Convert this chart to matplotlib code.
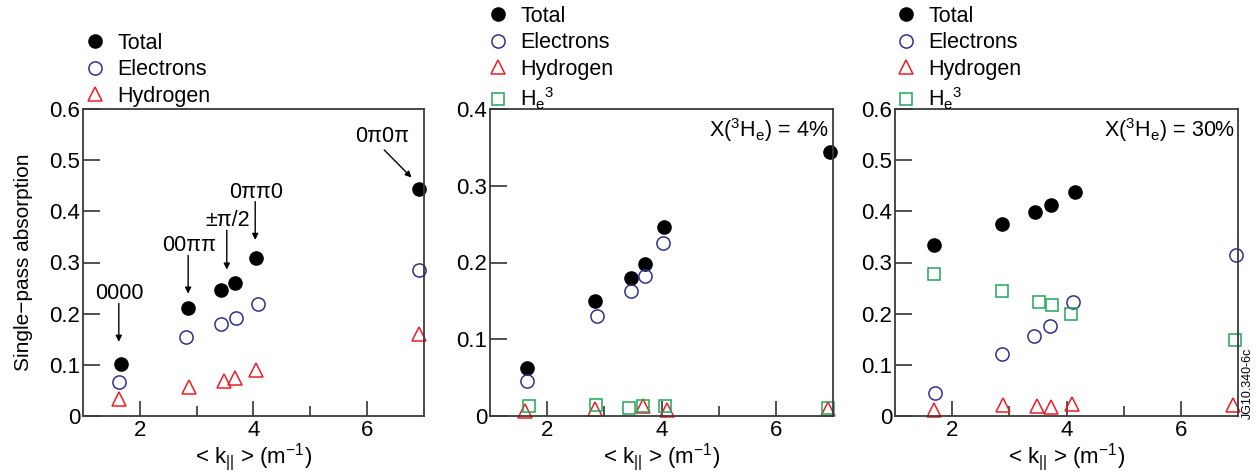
import matplotlib
matplotlib.use("Agg")
import matplotlib.pyplot as plt
from matplotlib.ticker import FixedLocator

plt.rcParams['font.family'] = ['Liberation Sans', 'DejaVu Sans']
plt.rcParams['mathtext.fontset'] = 'custom'
plt.rcParams['mathtext.rm'] = 'Liberation Sans'
plt.rcParams['mathtext.it'] = 'Liberation Sans:italic'
plt.rcParams['mathtext.sf'] = 'Liberation Sans'

# ---------------- data ----------------
# Panel 1 (no He3)
p1_total_x = [1.67, 2.85, 3.43, 3.67, 4.05, 6.91]
p1_total_y = [0.101, 0.212, 0.247, 0.259, 0.308, 0.444]
p1_elec_x = [1.64, 2.82, 3.42, 3.69, 4.08, 6.92]
p1_elec_y = [0.066, 0.155, 0.179, 0.192, 0.219, 0.286]
p1_hyd_x = [1.64, 2.87, 3.48, 3.68, 4.04, 6.92]
p1_hyd_y = [0.034, 0.057, 0.068, 0.075, 0.089, 0.161]

# Panel 2 (X(3He) = 4%)
p2_total_x = [1.64, 2.84, 3.47, 3.72, 4.05, 6.94]
p2_total_y = [0.062, 0.150, 0.180, 0.198, 0.246, 0.344]
p2_elec_x = [1.64, 2.87, 3.46, 3.71, 4.02]
p2_elec_y = [0.045, 0.130, 0.163, 0.183, 0.226]
p2_hyd_x = [1.62, 2.84, 3.67, 4.09, 6.92]
p2_hyd_y = [0.006, 0.009, 0.013, 0.008, 0.009]
p2_he3_x = [1.68, 2.85, 3.44, 3.67, 4.06, 6.91]
p2_he3_y = [0.013, 0.014, 0.010, 0.013, 0.013, 0.011]

# Panel 3 (X(3He) = 30%)
p3_total_x = [1.69, 2.87, 3.45, 3.73, 4.15]
p3_total_y = [0.334, 0.376, 0.399, 0.413, 0.437]
p3_elec_x = [1.70, 2.87, 3.44, 3.72, 4.12, 6.96]
p3_elec_y = [0.044, 0.122, 0.157, 0.176, 0.223, 0.315]
p3_hyd_x = [1.68, 2.89, 3.48, 3.73, 4.10, 6.92]
p3_hyd_y = [0.012, 0.021, 0.019, 0.018, 0.023, 0.021]
p3_he3_x = [1.68, 2.87, 3.52, 3.74, 4.07, 6.94]
p3_he3_y = [0.277, 0.244, 0.223, 0.216, 0.199, 0.148]

phase_labels = ['0000', '00\u03c0\u03c0', '\u00b1\u03c0/2', '0\u03c0\u03c00', '0\u03c00\u03c0']

x_ticks = [2, 4, 6]
x_minor = [3, 5]
y_ticks_06 = [0, 0.1, 0.2, 0.3, 0.4, 0.5, 0.6]
y_labels_06 = ['0', '0.1', '0.2', '0.3', '0.4', '0.5', '0.6']
y_ticks_04 = [0, 0.1, 0.2, 0.3, 0.4]
y_labels_04 = ['0', '0.1', '0.2', '0.3', '0.4']

# ---------------- style ----------------
C_TOT = 'black'
C_ELE = '#2e3192'
C_HYD = '#ed1c24'
C_HE3 = '#1fa855'
MS = 9.5
FS_TICK = 16
FS_LEG = 15.5

fig = plt.figure(figsize=(12.6, 4.72), dpi=100)
W, H = 1260, 472
def ax_at(l, r, t=109, b=416):
    return fig.add_axes([l / W, 1 - b / H, (r - l) / W, (b - t) / H])

ax1 = ax_at(83, 424)
ax2 = ax_at(490, 833)
ax3 = ax_at(895, 1238)

def style(ax, yt, yl, ymax):
    ax.set_xlim(1, 7)
    ax.set_ylim(0, ymax)
    ax.xaxis.set_major_locator(FixedLocator(x_ticks))
    ax.xaxis.set_minor_locator(FixedLocator(x_minor))
    ax.set_yticks(yt)
    ax.set_yticklabels(yl)
    ax.tick_params(axis='x', which='major', direction='in', length=11, width=1.2,
                   labelsize=FS_TICK, pad=3, top=False, color='#333333')
    ax.tick_params(axis='x', which='minor', direction='in', length=7, width=1.2,
                   top=False, color='#333333')
    ax.tick_params(axis='y', which='major', direction='in', length=12, width=1.2,
                   labelsize=FS_TICK, pad=2, right=False, color='#333333')
    for s in ax.spines.values():
        s.set_linewidth(1.3)
        s.set_color('#3a3a3a')
    ax.set_xlabel(r'< k$_{\mathregular{||}}$ > (m$^{\mathregular{-1}}$)', fontsize=FS_TICK, labelpad=0)

def plot_series(ax, tx, ty, ex, ey, hx, hy, gx=None, gy=None):
    kw = dict(linestyle='none', clip_on=False)
    h = []
    h.append(ax.plot(tx, ty, marker='o', ms=MS, color=C_TOT, label='Total', **kw)[0])
    h.append(ax.plot(ex, ey, marker='o', ms=MS, mfc='none', mec=C_ELE, mew=1.1, label='Electrons', **kw)[0])
    h.append(ax.plot(hx, hy, marker='^', ms=MS, mfc='none', mec=C_HYD, mew=1.1, label='Hydrogen', **kw)[0])
    if gx is not None:
        h.append(ax.plot(gx, gy, marker='s', ms=MS - 1, mfc='none', mec=C_HE3, mew=1.1,
                         label=r'H$_{\mathregular{e}}$$^{\mathregular{3}}$', **kw)[0])
    return h

h1 = plot_series(ax1, p1_total_x, p1_total_y, p1_elec_x, p1_elec_y, p1_hyd_x, p1_hyd_y)
h2 = plot_series(ax2, p2_total_x, p2_total_y, p2_elec_x, p2_elec_y, p2_hyd_x, p2_hyd_y, p2_he3_x, p2_he3_y)
h3 = plot_series(ax3, p3_total_x, p3_total_y, p3_elec_x, p3_elec_y, p3_hyd_x, p3_hyd_y, p3_he3_x, p3_he3_y)

style(ax1, y_ticks_06, y_labels_06, 0.6)
style(ax2, y_ticks_04, y_labels_04, 0.4)
style(ax3, y_ticks_06, y_labels_06, 0.6)
ax1.set_ylabel('Single\u2212pass absorption', fontsize=15, labelpad=12)

def legend(handles, x_px, top_px):
    fig.legend(handles=handles, loc='upper left',
               bbox_to_anchor=(x_px / W, 1 - top_px / H),
               frameon=False, fontsize=FS_LEG, handlelength=1.0, handletextpad=0.55,
               labelspacing=0.25, borderpad=0, borderaxespad=0)

legend(h1, 84, 33)
legend(h2, 487, 6)
legend(h3, 895, 6)

# annotations in panel 1
ann = [
    (phase_labels[0], (1.64, 0.239), (1.63, 0.220), (1.63, 0.145)),
    (phase_labels[1], (2.86, 0.334), (2.85, 0.314), (2.85, 0.239)),
    (phase_labels[2], (3.54, 0.383), (3.53, 0.363), (3.53, 0.286)),
    (phase_labels[3], (4.04, 0.436), (4.03, 0.419), (4.03, 0.344)),
    (phase_labels[4], (6.26, 0.547), (6.30, 0.520), (6.78, 0.466)),
]
for txt, tp, tail, head in ann:
    ax1.text(tp[0], tp[1], txt, ha='center', va='center', fontsize=FS_LEG)
    ax1.annotate('', xy=head, xytext=tail,
                 arrowprops=dict(arrowstyle='-|>', lw=1.0, color='black',
                                 mutation_scale=9, shrinkA=0, shrinkB=0))

ax2.text(0.985, 0.93, r'X($^{\mathregular{3}}$H$_{\mathregular{e}}$) = 4%', transform=ax2.transAxes,
         ha='right', va='center', fontsize=FS_LEG)
ax3.text(0.993, 0.93, r'X($^{\mathregular{3}}$H$_{\mathregular{e}}$) = 30%', transform=ax3.transAxes,
         ha='right', va='center', fontsize=FS_LEG)

fig.text(1248 / W, 1 - 383 / H, 'JG10.340-6c', rotation=90, ha='center', va='center', fontsize=9)

fig.savefig('out.png', dpi=100)
